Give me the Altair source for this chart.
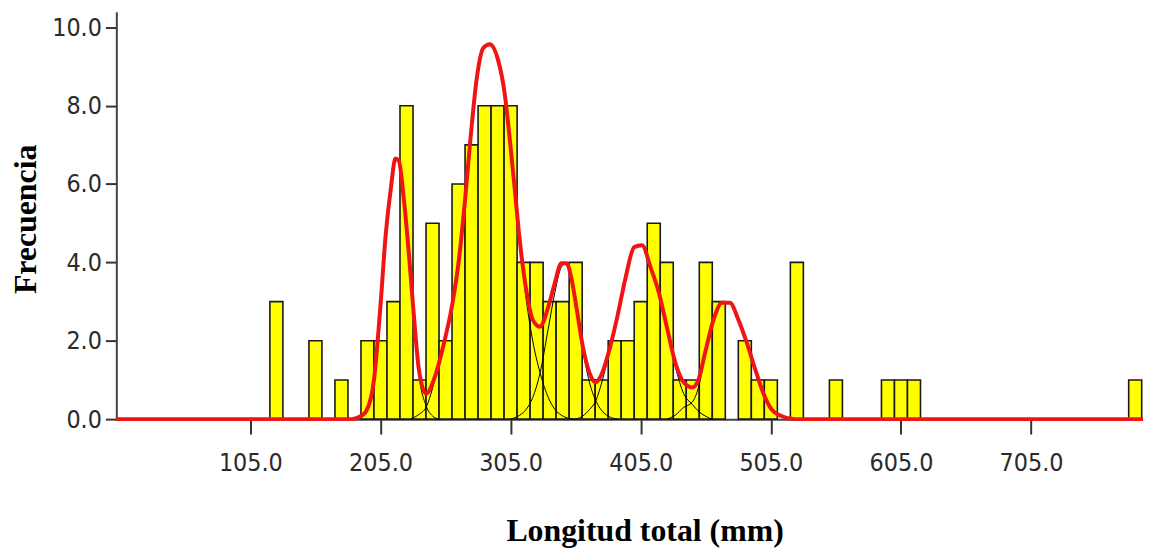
import altair as alt
import pandas as pd

# Histogram bins (lower edge, mm) and counts, bin width 10 mm
bin_start = [120, 150, 170, 190, 200, 210, 220, 230, 240, 250, 260, 270, 280, 290,
             300, 310, 320, 330, 340, 350, 360, 370, 380, 390, 400, 410, 420, 430,
             440, 450, 460, 480, 490, 500, 520, 550, 590, 600, 610, 780]
counts = [3, 2, 1, 2, 2, 3, 8, 1, 5, 2, 6, 7, 8, 8,
          8, 4, 4, 3, 3, 4, 1, 1, 2, 2, 3, 5, 4, 1,
          1, 4, 3, 2, 1, 1, 4, 1, 1, 1, 1, 1]
bin_width = 10

# Red fitted mixture curve
red_x = [2, 183, 190, 194, 200, 205, 209, 213, 216.5, 219, 223, 227, 231, 234.5, 240,
         247, 253.5, 260, 265, 270, 274, 279, 284, 289, 295.5, 300.5, 304.5, 308.5, 312,
         317, 322, 327.5, 334, 339, 344, 348, 351.5, 355.5, 360.5, 365.5, 370.5, 375.5,
         381, 387, 393.5, 400, 406, 412.5, 419, 425, 431.5, 438, 444.5, 449.5, 454.5,
         461, 467.5, 473.5, 480, 486.5, 493, 499, 505.5, 513, 523, 791]
red_y = [0, 0, 0.08, 0.2, 1.0, 2.9, 4.7, 5.9, 6.65, 6.6, 5.6, 4.15, 2.5, 1.27, 0.65,
         1.1, 1.9, 2.9, 4.0, 5.6, 7.1, 8.7, 9.47, 9.57, 9.15, 8.3, 7.1, 5.76, 4.57,
         3.3, 2.54, 2.36, 2.87, 3.48, 3.98, 3.98, 3.63, 2.87, 1.85, 1.19, 0.94, 1.19,
         1.78, 2.61, 3.63, 4.39, 4.44, 3.88, 3.22, 2.36, 1.45, 0.94, 0.81, 1.02, 1.7,
         2.54, 2.97, 2.97, 2.54, 1.95, 1.27, 0.68, 0.25, 0.08, 0, 0]

# Individual normal components (thin black curves)
c1_x = [185, 190, 194, 200, 205, 209, 213, 216.5, 219, 223, 227, 231, 234.5, 240, 245, 250]
c1_y = [0, 0.08, 0.2, 1.0, 2.9, 4.7, 5.9, 6.65, 6.6, 5.6, 4.15, 2.45, 1.15, 0.35, 0.08, 0]
c2_x = [228, 234.5, 240, 247, 253.5, 260, 265, 270, 274, 279, 284, 289, 295.5, 300.5,
        304.5, 308.5, 312, 317, 322, 327.5, 334, 339, 344, 350, 355]
c2_y = [0, 0.12, 0.3, 1.03, 1.9, 2.9, 4.0, 5.6, 7.1, 8.7, 9.47, 9.57, 9.15, 8.3,
        7.1, 5.7, 4.47, 3.05, 2.0, 1.2, 0.55, 0.25, 0.1, 0.02, 0]
c3_x = [305, 312, 317, 322, 327.5, 334, 339, 344, 348, 351.5, 355.5, 360.5, 365.5,
        370.5, 375.5, 381, 387]
c3_y = [0, 0.1, 0.25, 0.55, 1.16, 2.32, 3.23, 3.88, 3.98, 3.63, 2.87, 1.77, 0.95,
        0.47, 0.2, 0.06, 0]
c4_x = [355, 360.5, 365.5, 370.5, 375.5, 381, 387, 393.5, 400, 406, 412.5, 419, 425,
        431.5, 438, 444.5, 449.5, 454.5, 460]
c4_y = [0, 0.08, 0.24, 0.47, 0.99, 1.72, 2.6, 3.6, 4.39, 4.44, 3.88, 3.2, 2.3,
        1.35, 0.65, 0.38, 0.2, 0.08, 0]
c5_x = [425, 431.5, 438, 444.5, 449.5, 454.5, 461, 467.5, 473.5, 480, 486.5, 493, 499,
        505.5, 513, 520]
c5_y = [0, 0.1, 0.3, 0.43, 0.82, 1.62, 2.5, 2.95, 2.97, 2.54, 1.95, 1.27, 0.68,
        0.25, 0.08, 0]

x_ticks = [105, 205, 305, 405, 505, 605, 705]
y_ticks = [0, 2, 4, 6, 8, 10]

bars_df = pd.DataFrame({"start": bin_start, "count": counts})
bars_df["end"] = bars_df["start"] + bin_width
red_df = pd.DataFrame({"x": red_x, "y": red_y})
comp_frames = []
for name, xs, ys in [("c1", c1_x, c1_y), ("c2", c2_x, c2_y), ("c3", c3_x, c3_y),
                     ("c4", c4_x, c4_y), ("c5", c5_x, c5_y)]:
    comp_frames.append(pd.DataFrame({"x": xs, "y": ys, "comp": name}))
comp_df = pd.concat(comp_frames, ignore_index=True)

LABEL_FONT = "Liberation Sans Narrow, Arial Narrow, DejaVu Sans Condensed, sans-serif"
TITLE_FONT = "Liberation Serif, Times New Roman, serif"

xscale = alt.Scale(domain=[2, 791], nice=False, zero=False)
yscale = alt.Scale(domain=[0, 10.4], nice=False)

x_axis = alt.Axis(values=x_ticks, format=".1f", grid=False, tickSize=15, tickWidth=2,
                  tickColor="#333", domainColor="#444", domainWidth=2, labelPadding=17,
                  labelFont=LABEL_FONT, labelFontSize=25, labelColor="#2b2b2b",
                  title="Longitud total (mm)", titleFont=TITLE_FONT, titleFontSize=32,
                  titleFontWeight="bold", titleColor="#000", titleX=531.5, titleY=122,
                  titleBaseline="alphabetic", titleAlign="center")
y_axis = alt.Axis(values=y_ticks, format=".1f", grid=False, tickSize=11, tickWidth=2,
                  tickColor="#333", domainColor="#444", domainWidth=2, labelPadding=4,
                  labelFont=LABEL_FONT, labelFontSize=25, labelColor="#2b2b2b",
                  title="Frecuencia", titleFont=TITLE_FONT, titleFontSize=32,
                  titleFontWeight="bold", titleColor="#000", titleX=-81, titleY=208.5,
                  titleBaseline="alphabetic", titleAlign="center", titleAngle=270)

bars = alt.Chart(bars_df).mark_rect(fill="#ffff00", stroke="#1a1a1a", strokeWidth=1.6).encode(
    x=alt.X("start:Q", scale=xscale, axis=x_axis),
    x2="end:Q",
    y=alt.Y("count:Q", scale=yscale, axis=y_axis),
    y2=alt.datum(0),
)

comps = alt.Chart(comp_df).mark_line(color="#000000", strokeWidth=1, interpolate="monotone").encode(
    x=alt.X("x:Q", scale=xscale),
    y=alt.Y("y:Q", scale=yscale),
    detail="comp:N",
)

red = alt.Chart(red_df).mark_line(color="#f01414", strokeWidth=4, interpolate="monotone").encode(
    x=alt.X("x:Q", scale=xscale),
    y=alt.Y("y:Q", scale=yscale),
)

chart = alt.layer(bars, comps, red).properties(
    width=1033, height=410,
    autosize=alt.AutoSizeParams(type="none"),
    padding={"left": 109, "top": 2, "right": 0, "bottom": 130},
    background="white",
).configure_view(stroke=None)

chart.save("out.html", embed_options={"renderer": "svg", "actions": False})
